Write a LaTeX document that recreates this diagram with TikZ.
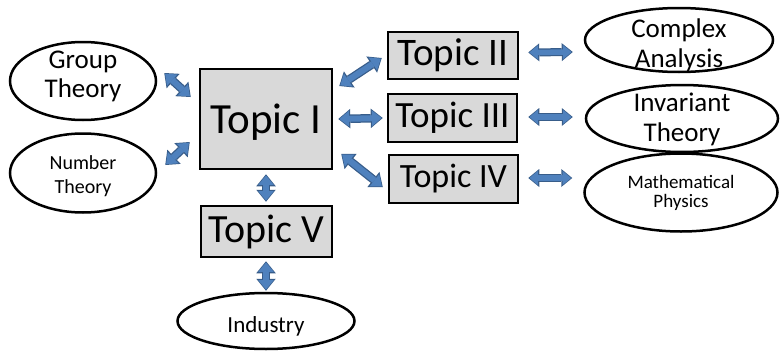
\documentclass[tikz,border=0pt]{standalone}
\usepackage{fontspec}
\setmainfont{Carlito}
\usetikzlibrary{arrows.meta,calc,shapes.geometric}
\definecolor{afill}{HTML}{4F81BD}
\definecolor{aborder}{HTML}{385D8A}
\definecolor{bfill}{HTML}{D9D9D9}
\tikzset{
  topic/.style={draw=black, line width=2.5pt, fill=bfill, inner sep=0pt},
  ell/.style={ellipse, draw=black, line width=2.5pt, fill=white, inner sep=0pt},
  etxt/.style={align=center, inner sep=0pt},
  bigarr/.style={draw=afill, line width=6pt, shorten <=1.2pt, shorten >=1.2pt,
    {Triangle[width=15.5pt,length=9.5pt,line width=0pt]}-{Triangle[width=15.5pt,length=9.5pt,line width=0pt]},
    preaction={draw=aborder, line width=8.5pt, shorten <=0pt, shorten >=0pt,
      {Triangle[width=19.5pt,length=12pt,line width=0pt]}-{Triangle[width=19.5pt,length=12pt,line width=0pt]}}},
  smallarr/.style={draw=afill, line width=5.5pt, shorten <=1.2pt, shorten >=1.2pt,
    {Triangle[width=14pt,length=8.5pt,line width=0pt]}-{Triangle[width=14pt,length=8.5pt,line width=0pt]},
    preaction={draw=aborder, line width=8pt, shorten <=0pt, shorten >=0pt,
      {Triangle[width=18pt,length=11pt,line width=0pt]}-{Triangle[width=18pt,length=11pt,line width=0pt]}}},
}
\begin{document}
\begin{tikzpicture}[x=1pt,y=-1pt]
\useasboundingbox (0,0) rectangle (780,351);
% topic boxes
\node[topic, minimum width=132pt, minimum height=100pt, text depth=0pt, font=\fontsize{43}{48}\selectfont] (t1) at (266,119) {Topic I};
\node[topic, minimum width=130pt, minimum height=47pt, font=\fontsize{39}{44}\selectfont] (t2) at (453,55.5) {Topic II};
\node[topic, minimum width=129pt, minimum height=48pt, font=\fontsize{37}{42}\selectfont] (t3) at (452.5,118) {Topic III};
\node[topic, minimum width=129pt, minimum height=48pt, font=\fontsize{34}{39}\selectfont] (t4) at (453.5,179) {Topic IV};
\node[topic, minimum width=131pt, minimum height=51pt, font=\fontsize{40}{45}\selectfont] (t5) at (266.5,231.5) {Topic V};
% ellipses
\node[ell, minimum width=146pt, minimum height=78pt,
  label={[etxt, font=\fontsize{27}{29}\selectfont, yshift=4.5pt]center:Group\\Theory}] (gt) at (83,81) {};
\node[ell, minimum width=146pt, minimum height=79pt,
  label={[etxt, font=\fontsize{20}{24.5}\selectfont, yshift=-3pt]center:Number\\Theory}] (nt) at (83,173) {};
\node[ell, minimum width=188pt, minimum height=64pt,
  label={[etxt, font=\fontsize{27}{30}\selectfont, yshift=-5pt]center:Complex\\Analysis}] (ca) at (679,40) {};
\node[ell, minimum width=192pt, minimum height=67pt,
  label={[etxt, font=\fontsize{27}{30}\selectfont, yshift=-1pt]center:Invariant\\Theory}] (it) at (682,118.5) {};
\node[ell, minimum width=193pt, minimum height=78pt,
  label={[etxt, font=\fontsize{19}{19}\selectfont, yshift=0pt]center:Mathematical\\Physics}] (mp) at (681,192.5) {};
\node[ell, minimum width=177pt, minimum height=56pt,
  label={[etxt, font=\fontsize{23}{27}\selectfont, yshift=-5pt]center:Industry}] (ind) at (266,321) {};
% arrows
\draw[bigarr] ($(gt.east)+(7,-8)$) -- ($(t1.west)+(-8,-22)$);
\draw[bigarr] ($(nt.east)+(8,-8)$) -- ($(t1.west)+(-9,23)$);
\draw[bigarr] ($(t1.east)+(6,-33)$) -- ($(t2.west)+(-5,2.5)$);
\draw[bigarr] ($(t1.east)+(5,0)$) -- ($(t3.west)+(-4,0)$);
\draw[bigarr] ($(t1.east)+(8,35)$) -- ($(t4.west)+(-5,8)$);
\draw[bigarr] ($(t1.south)+(0,4)$) -- ($(t5.north)+(-0.5,-3)$);
\draw[bigarr] ($(t5.south)+(-0.5,3)$) -- ($(ind.north)+(0,-1)$);
\draw[smallarr] ($(t2.east)+(9,-3)$) -- ($(ca.west)+(-11,12)$);
\draw[smallarr] ($(t3.east)+(10,-1)$) -- ($(it.west)+(-12,-1.5)$);
\draw[smallarr] ($(t4.east)+(9,-1)$) -- ($(mp.west)+(-11,-14.5)$);
\end{tikzpicture}
\end{document}
